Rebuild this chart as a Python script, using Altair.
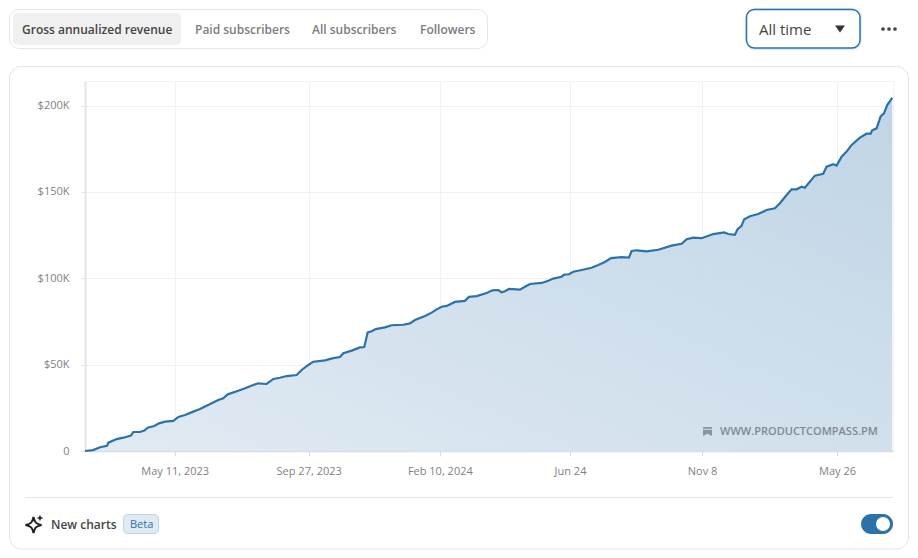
import altair as alt
import pandas as pd

days = [0, 8.3, 15.6, 22.8, 24.2, 32.9, 39.7, 47.7, 50.1, 57, 61.5, 65, 71.9, 76.7, 83, 91.6, 96.8, 103.7, 112.3, 119.3,
        131.4, 138.2, 143.4, 148, 159, 166, 174.5, 179.7, 188.4, 195.3, 202.2, 209.1, 219.5, 224.7, 231.6, 236.8, 248.9,
        257.5, 264.4, 267.9, 276.6, 285.2, 289.6, 293.2, 297.3, 301.5, 311.1, 318, 330.1, 337, 342.2, 352.6, 359.5, 364.7,
        369.9, 375.1, 383.7, 394, 398.2, 406.2, 416.6, 422.4, 428.6, 432.1, 435.5, 439.7, 451.1, 456.3, 461.5, 473.6,
        480.5, 485.6, 494.3, 497, 501.9, 506.4, 515.1, 525.4, 532.3, 539.2, 545.5, 556.6, 564.1, 566.9, 572.1, 582.5,
        594.5, 608.4, 618.8, 624, 630.8, 639.5, 651.6, 662.9, 667.1, 674, 676.8, 680.9, 683.7, 689.6, 698.2, 706.9, 715.5,
        720.7, 727.7, 732.8, 738, 743.2, 746.6, 757, 765.6, 769.1, 776, 779.5, 784.7, 789.9, 795.1, 803.7, 810.6, 814.8,
        816.4, 821, 825.1, 828.6, 832, 837.2]
revenue = [0, 500, 2200, 3000, 4800, 6900, 7700, 8900, 11000, 11000, 11800, 13500, 14500, 16000, 17000, 17400, 19700,
           20800, 22800, 24300, 27600, 29500, 30500, 32800, 34900, 36300, 38200, 39200, 38800, 41700, 42400, 43400, 44000,
           46900, 49800, 51700, 52500, 53800, 54400, 56600, 58100, 60000, 60200, 68700, 69300, 70600, 71600, 72800, 73100,
           73900, 75800, 78200, 80100, 82000, 83500, 84000, 86300, 86900, 89200, 89700, 91500, 93000, 93200, 91900, 92500,
           93800, 93400, 95100, 96700, 97300, 98600, 99800, 100900, 102100, 102300, 103800, 104800, 106100, 107700, 109400,
           111700, 112200, 111900, 115800, 116200, 115600, 116500, 118900, 120000, 122600, 123500, 123200, 125600, 126600,
           125600, 125100, 128400, 130300, 134200, 135900, 137200, 139500, 140500, 143400, 148200, 151500, 151500, 153000,
           152400, 159400, 160500, 164600, 166000, 165200, 170400, 173300, 177200, 181400, 183700, 183700, 185700, 186800,
           193600, 195500, 200300, 204500]
tick_days = [93, 232, 368, 503, 640, 780]
tick_labels = ["May 11, 2023", "Sep 27, 2023", "Feb 10, 2024", "Jun 24", "Nov 8", "May 26"]
y_ticks = [0, 50000, 100000, 150000, 200000]
tabs = ["Gross annualized revenue", "Paid subscribers", "All subscribers", "Followers"]

FONT = "Open Sans"
BLUE = "#2b72aa"
df = pd.DataFrame({"day": days, "revenue": revenue})
one = pd.DataFrame({"k": [0]})

# page pixel -> plot-group pixel
OX, OY = 85, 81


def box(x0, y0, x1, y1, fill="transparent", stroke=None, sw=1, r=0):
    kw = dict(fill=fill, cornerRadius=r)
    if stroke:
        kw.update(stroke=stroke, strokeWidth=sw)
    return alt.Chart(one).mark_rect(**kw).encode(
        x=alt.value(x0 - OX), x2=alt.value(x1 - OX), y=alt.value(y0 - OY), y2=alt.value(y1 - OY))


def label(s, x, y, size=12, color="#7c7c7c", weight=600, align="left"):
    return alt.Chart(one).mark_text(text=s, font=FONT, fontSize=size, color=color, fontWeight=weight,
                                    align=align, baseline="middle").encode(
        x=alt.value(x - OX), y=alt.value(y - OY))


def glyph(shape, x, y, size, fill="#333333", stroke=None, sw=1):
    kw = dict(shape=shape, size=size, opacity=1)
    if stroke:
        kw.update(filled=False, stroke=stroke, strokeWidth=sw)
    else:
        kw.update(filled=True, fill=fill, strokeWidth=0)
    return alt.Chart(one).mark_point(**kw).encode(x=alt.value(x - OX), y=alt.value(y - OY))


STAR = "M0,-1C0.15,-0.3 0.3,-0.15 1,0C0.3,0.15 0.15,0.3 0,1C-0.15,0.3 -0.3,0.15 -1,0C-0.3,-0.15 -0.15,-0.3 0,-1Z"
BOOKMARK = "M-1,-1H1V-0.6H-1Z M-1,-0.4H1V1L0,0.5L-1,1Z"
TRI = "M-1,-0.7H1L0,0.7Z"

x_scale = alt.Scale(domain=[0, 838], nice=False, zero=False)
y_scale = alt.Scale(domain=[0, 214200], nice=False)
label_map = "{" + ",".join(f"{d}:'{t}'" for d, t in zip(tick_days, tick_labels)) + "}"

x_axis = alt.Axis(values=tick_days, labelExpr=f"{label_map}[datum.value]", title=None, grid=True, gridColor="#eff1f3",
                  tickColor="#d9dde1", tickSize=5, domainColor="#d3dee8", domainWidth=1.5, labelFont=FONT,
                  labelFontSize=11, labelColor="#7f7f7f", labelPadding=9)
y_axis = alt.Axis(values=y_ticks, labelExpr="datum.value == 0 ? '0' : '$' + datum.value / 1000 + 'K'", title=None,
                  grid=True, gridColor="#f1f1f1", tickColor="#e6e6e6", tickSize=4, domainColor="#e6e6e6", domainWidth=2,
                  labelFont=FONT, labelFontSize=11, labelColor="#7f7f7f", labelPadding=12)

area = alt.Chart(df).mark_area(
    color=alt.Gradient(gradient="linear", x1=0, y1=1, x2=1, y2=0,
                       stops=[alt.GradientStop(color="#dfe9f2", offset=0),
                              alt.GradientStop(color="#bcd2e4", offset=1)]),
    opacity=0.94, interpolate="linear"
).encode(x=alt.X("day:Q", scale=x_scale, axis=x_axis), y=alt.Y("revenue:Q", scale=y_scale, axis=y_axis))

line = alt.Chart(df).mark_line(color=BLUE, strokeWidth=2.2, interpolate="linear").encode(
    x=alt.X("day:Q", scale=x_scale), y=alt.Y("revenue:Q", scale=y_scale))

background = [
    box(9.5, 9.5, 487.5, 48.5, stroke="#e6e6e6", r=10),
    box(13, 13, 181, 45, fill="#f0f0f0", r=4),
    box(745, 8, 862, 50, fill="#e1ebf3", r=10),
    box(746.5, 9.5, 860, 48, fill="white", stroke=BLUE, sw=1.5, r=8),
    box(9.5, 66.5, 908.5, 549, stroke="#e4e4e4", r=12),
]
chrome = [
    label(tabs[0], 22, 30, color="#444444"),
    label(tabs[1], 195, 30),
    label(tabs[2], 312, 30),
    label(tabs[3], 420, 30),
    label("All time", 759, 30, size=15, color="#444444", weight=400),
    glyph(TRI, 840, 29, 100, fill="#333333"),
    glyph("circle", 883, 29, 14, fill="#444444"),
    glyph("circle", 889, 29, 14, fill="#444444"),
    glyph("circle", 895, 29, 14, fill="#444444"),
    box(25, 497, 893, 498, fill="#e6e6e6"),
    glyph(STAR, 33.5, 525, 256, stroke="#222222", sw=2),
    glyph(STAR, 40, 518, 49, fill="#222222"),
    label("New charts", 51, 525, color="#444444"),
    box(123.5, 514.5, 158.5, 533.5, fill="#dfeaf3", stroke="#bcd3e5", r=4),
    label("Beta", 130, 525, size=11, color=BLUE, weight=400),
    box(861, 514, 893, 534, fill=BLUE, r=10),
    glyph("circle", 883, 524, 196, fill="white"),
    glyph(BOOKMARK, 707.5, 431.5, 81, fill="#8a949c"),
    label("WWW.PRODUCTCOMPASS.PM", 720, 432, size=11, color="#7d8993", weight=600),
]

chart = alt.layer(*background, area, line, *chrome).properties(
    width=808, height=370,
    autosize=alt.AutoSizeParams(type="none"),
    padding={"left": 77, "top": 73, "right": 17, "bottom": 100},
    background="white",
).configure_view(stroke="#f3f3f3")

chart.save("out.html", embed_options={"renderer": "svg", "actions": False})
